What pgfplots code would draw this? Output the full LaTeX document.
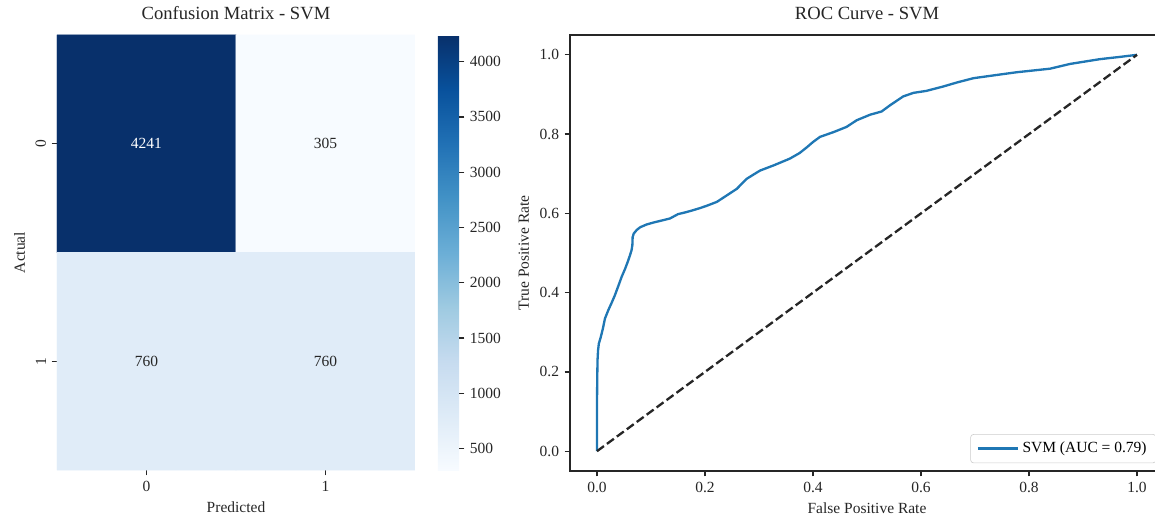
\documentclass[border=0pt]{standalone}
\usepackage{fontspec}
\setmainfont{Liberation Serif}
\usepackage{pgfplots}
\pgfplotsset{compat=1.18}
\usepackage{pgfplotstable}

\definecolor{curveblue}{HTML}{1F77B4}
\definecolor{annot}{HTML}{262626}
\definecolor{inkc}{HTML}{262626}

% confusion matrix: predicted class, actual class, count
\pgfplotstableread{
pred actual c
0 0 4241
1 0 305
0 1 760
1 1 760
}\cmtable

% ROC curve of the SVM classifier
\pgfplotstableread{
fpr tpr
0 0
0 0.05
0 0.12
0.0005 0.19
0.001 0.23
0.002 0.255
0.0035 0.272
0.006 0.283
0.0087 0.297
0.011 0.31
0.0148 0.335
0.021 0.356
0.027 0.374
0.033 0.393
0.039 0.415
0.0457 0.44
0.052 0.46
0.057 0.478
0.061 0.494
0.064 0.507
0.0655 0.52
0.066 0.54
0.068 0.549
0.0735 0.558
0.08 0.565
0.092 0.572
0.105 0.577
0.117 0.581
0.135 0.587
0.15 0.598
0.165 0.603
0.178 0.608
0.19 0.613
0.203 0.619
0.222 0.629
0.24 0.645
0.259 0.662
0.277 0.687
0.29 0.698
0.302 0.708
0.327 0.721
0.357 0.738
0.375 0.752
0.388 0.766
0.40 0.78
0.413 0.793
0.438 0.805
0.462 0.818
0.481 0.835
0.506 0.849
0.527 0.857
0.543 0.873
0.567 0.895
0.586 0.904
0.61 0.909
0.641 0.92
0.666 0.93
0.697 0.941
0.734 0.948
0.777 0.956
0.839 0.965
0.876 0.977
0.931 0.989
0.97 0.995
1 1
}\roctable

\begin{document}
\begin{tikzpicture}[font=\fontsize{10}{12}\selectfont]
\pgfplotsset{
  every axis/.append style={
    /pgf/number format/assume math mode=true,
    tick align=outside,
    major tick length=3.5pt,
    tick style={inkc, line width=0.8pt},
    tick label style={font=\fontsize{10}{12}\selectfont, inkc},
    label style={font=\fontsize{10}{12}\selectfont, inkc},
    title style={font=\fontsize{12}{14}\selectfont, inkc},
  },
}
% ---------- confusion matrix heatmap ----------
\begin{axis}[
  at={(36.77pt,29.03pt)}, anchor=south west,
  scale only axis, width=230.97pt, height=280.65pt,
  xmin=-0.5, xmax=1.5, ymin=-0.5, ymax=1.5,
  enlargelimits=false,
  axis line style={draw=none},
  xtick={0,1}, ytick={0,1}, yticklabels={1,0},
  xtick pos=left, ytick pos=left,
  yticklabel style={rotate=90, anchor=south},
  xlabel={Predicted}, ylabel={Actual},
  title={Confusion Matrix - SVM},
  colormap={blues}{rgb255(0)=(247,251,255) rgb255(1)=(222,235,247)
    rgb255(2)=(198,219,239) rgb255(3)=(158,202,225) rgb255(4)=(107,174,214)
    rgb255(5)=(66,146,198) rgb255(6)=(33,113,181) rgb255(7)=(8,81,156)
    rgb255(8)=(8,48,107)},
  point meta min=305, point meta max=4241,
  colorbar,
  colorbar style={
    at={(parent axis.north east)}, anchor=north west, xshift=6.2pt,
    scale only axis, width=13.7pt,
    axis line style={draw=none},
    ytick={500,1000,...,4000},
    ytick pos=right, yticklabel pos=right,
    yticklabel style={/pgf/number format/1000 sep={}},
    xtick=\empty,
  },
]
\addplot[matrix plot*, mesh/cols=2, point meta=explicit]
  table[x=pred, y expr=1-\thisrow{actual}, meta=c] {\cmtable};
\addplot[draw=none, mark=none, point meta=explicit,
  visualization depends on={\thisrow{c} \as \cval},
  nodes near coords={\ifdim\cval pt>2000pt \color{white}\else\color{annot}\fi
    \pgfmathprintnumber[fixed, precision=0, 1000 sep={}, assume math mode=true]{\cval}},
  nodes near coords style={anchor=center, font=\fontsize{10}{12}\selectfont}]
  table[x=pred, y expr=1-\thisrow{actual}, meta=c] {\cmtable};
\end{axis}

% ---------- ROC curve ----------
\begin{axis}[
  at={(367.74pt,28.39pt)}, anchor=south west,
  scale only axis, width=383.23pt, height=281.29pt,
  xmin=-0.05, xmax=1.05, ymin=-0.05, ymax=1.05,
  xtick={0,0.2,0.4,0.6,0.8,1}, ytick={0,0.2,0.4,0.6,0.8,1},
  xtick pos=left, ytick pos=left,
  tick label style={/pgf/number format/.cd, fixed, fixed zerofill, precision=1},
  axis line style={inkc, line width=0.8pt},
  xlabel={False Positive Rate}, ylabel={True Positive Rate},
  title={ROC Curve - SVM},
  legend style={at={(1,0)}, anchor=south east, xshift=-5pt, yshift=5pt,
    draw=black!20, rounded corners=2pt, fill=white, fill opacity=0.8,
    text opacity=1, font=\fontsize{10}{12}\selectfont, inner xsep=4pt, inner ysep=3pt},
  legend cell align=left,
  legend image code/.code={\draw[#1] (0pt,0pt) -- (22pt,0pt);
    \path (22pt,0pt) -- (26pt,0pt);},
]
\addplot[curveblue, line width=1.5pt, line join=round] table[x=fpr, y=tpr] {\roctable};
\addlegendentry{SVM (AUC = 0.79)}
\addplot[inkc, line width=1.5pt, dash pattern=on 5.55pt off 2.4pt, forget plot]
  coordinates {(0,0) (1,1)};
\end{axis}

\pgfresetboundingbox
\useasboundingbox (0,0) rectangle (745.16pt,332.26pt);
\end{tikzpicture}
\end{document}
